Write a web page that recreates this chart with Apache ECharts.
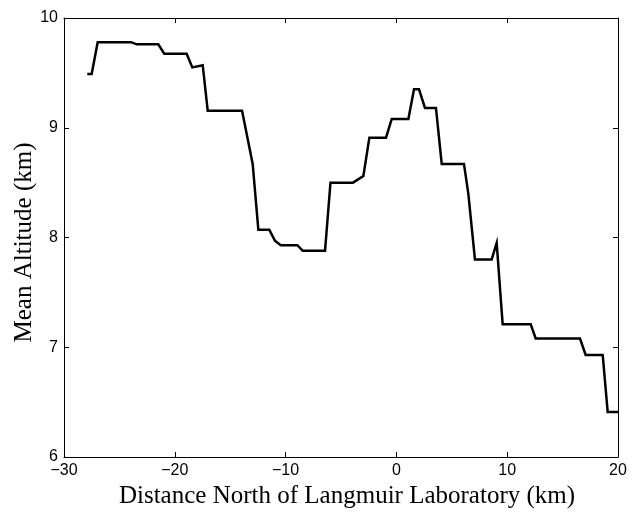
<!DOCTYPE html>
<html><head><meta charset="utf-8">
<script src="https://cdn.jsdelivr.net/npm/echarts@6/dist/echarts.min.js"></script>
<style>html,body{margin:0;padding:0;background:#fff}#c{width:639px;height:516px}</style>
</head><body><div id="c"></div>
<script>
const distanceKm = [-27.9,-27.5,-26.96,-23.95,-23.44,-21.49,-20.95,-18.93,-18.42,-17.48,-17.03,-13.93,-12.97,-12.46,-11.47,-10.96,-10.44,-8.94,-8.46,-6.44,-5.95,-3.92,-2.98,-2.44,-0.94,-0.42,1.08,1.59,2.04,2.58,3.57,4.09,6.1,6.49,7.09,8.6,9.05,9.59,12.12,12.57,16.57,17.08,18.62,19.07,20.0];
const meanAltKm  = [9.49,9.49,9.78,9.78,9.76,9.76,9.675,9.675,9.55,9.57,9.155,9.155,8.67,8.07,8.07,7.97,7.93,7.93,7.88,7.88,8.50,8.50,8.56,8.91,8.91,9.08,9.08,9.35,9.35,9.18,9.18,8.67,8.67,8.40,7.80,7.80,7.95,7.21,7.21,7.08,7.08,6.93,6.93,6.41,6.41];
const xTicks = [-30,-20,-10,0,10,20];
const yTicks = [6,7,8,9,10];
const xTitle = 'Distance North of Langmuir Laboratory (km)';
const yTitle = 'Mean Altitude (km)';

const chart = echarts.init(document.getElementById('c'), null, {renderer:'canvas'});
const fmt = v => String(v).replace('-', '\u2212');
const lbl = {color:'#000', fontFamily:'Liberation Sans', fontSize:16, formatter:fmt};
const axLine = {show:true, onZero:false, lineStyle:{color:'#000', width:1}};
const tick = {show:true, inside:true, length:5, lineStyle:{color:'#000', width:1}};
chart.setOption({
  animation:false,
  backgroundColor:'#fff',
  grid:{left:64, right:21, top:18, bottom:59, containLabel:false, outerBoundsMode:'none'},
  xAxis:[{
    type:'value', min:xTicks[0], max:xTicks[xTicks.length-1], interval:10,
    axisLine:axLine, axisTick:tick, splitLine:{show:false},
    axisLabel:Object.assign({margin:6}, lbl),
    name:xTitle, nameLocation:'middle', nameGap:26,
    nameTextStyle:{color:'#000', fontFamily:'Liberation Serif', fontSize:25, padding:[0,0,0,12]}
  },{
    type:'value', position:'top', min:xTicks[0], max:xTicks[xTicks.length-1], interval:10,
    axisLine:axLine, axisTick:tick, axisLabel:{show:false}, splitLine:{show:false}
  }],
  yAxis:[{
    type:'value', min:yTicks[0], max:yTicks[yTicks.length-1], interval:1,
    axisLine:axLine, axisTick:tick, splitLine:{show:false},
    axisLabel:Object.assign({margin:6}, lbl),
    name:yTitle, nameLocation:'middle', nameGap:27, nameMoveOverlap:false,
    nameTextStyle:{color:'#000', fontFamily:'Liberation Serif', fontSize:25, padding:[0,10,0,0]}
  },{
    type:'value', position:'right', min:yTicks[0], max:yTicks[yTicks.length-1], interval:1,
    axisLine:axLine, axisTick:tick, axisLabel:{show:false}, splitLine:{show:false}
  }],
  series:[{
    type:'line', xAxisIndex:0, yAxisIndex:0,
    data: distanceKm.map((d,i)=>[d, meanAltKm[i]]),
    showSymbol:false, symbol:'none',
    lineStyle:{color:'#000', width:2.5, join:'miter'}
  }]
});
</script></body></html>
